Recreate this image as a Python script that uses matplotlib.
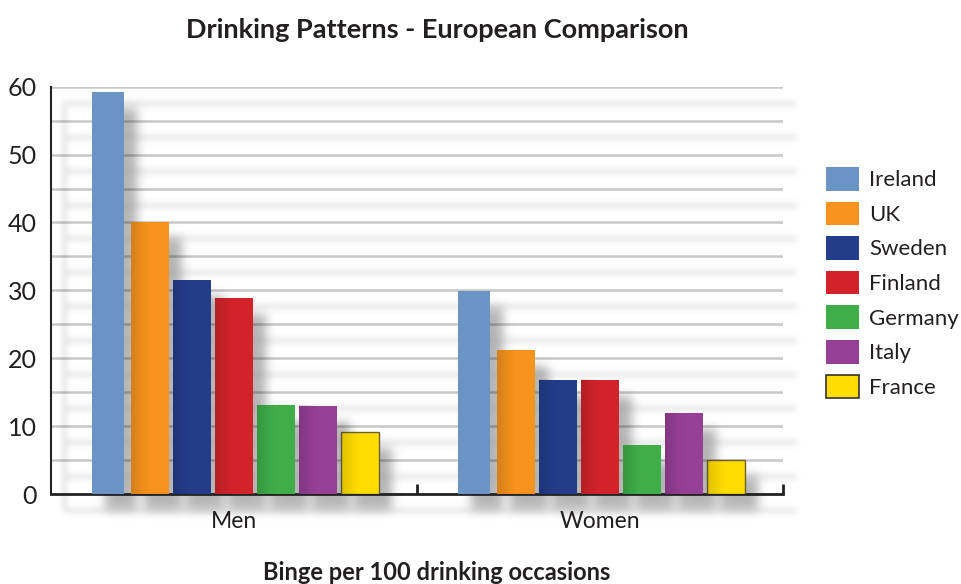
import numpy as np
import matplotlib
matplotlib.use("Agg")
import matplotlib.pyplot as plt
from matplotlib.patches import Rectangle, Patch
from matplotlib.collections import PatchCollection, LineCollection
from matplotlib.transforms import ScaledTranslation

plt.rcParams['font.family'] = ['Lato', 'DejaVu Sans']

# Binge episodes per 100 drinking occasions
groups = ["Men", "Women"]
countries = ["Ireland", "UK", "Sweden", "Finland", "Germany", "Italy", "France"]
men = [59.2, 40.0, 31.5, 28.8, 13.1, 13.0, 9.1]
women = [29.9, 21.2, 16.8, 16.8, 7.2, 11.9, 5.0]
colors = ["#6a94c5", "#f7931e", "#233d8a", "#d2232a", "#3fae49", "#963f96", "#ffdd00"]
edges = ["none", "none", "none", "none", "none", "none", "#6b6030"]
yticks = [0, 10, 20, 30, 40, 50, 60]

TEXT = "#231f20"
step = 0.115
widths = [0.088] + [0.104] * 6


def gauss_blur(sigma, color, strength):
    # soft shadow: blur the alpha channel and paint it in one colour
    def _filter(im, dpi):
        pad = int(3 * sigma) + 1
        src = np.pad(im, ((pad, pad), (pad, pad), (0, 0)))
        k = np.arange(-pad, pad + 1)
        w = np.exp(-0.5 * (k / sigma) ** 2)
        w /= w.sum()
        a = src[:, :, 3]
        tmp = np.zeros_like(a)
        for i, wi in zip(k, w):
            tmp += wi * np.roll(a, i, axis=0)
        out_a = np.zeros_like(a)
        for i, wi in zip(k, w):
            out_a += wi * np.roll(tmp, i, axis=1)
        out = np.zeros_like(src)
        out[:, :, 0] = color[0]
        out[:, :, 1] = color[1]
        out[:, :, 2] = color[2]
        out[:, :, 3] = np.clip(out_a * strength, 0, 1)
        return out, -pad, -pad
    return _filter


fig = plt.figure(figsize=(9.62, 5.84), dpi=100)
ax = fig.add_axes([51 / 962, 1 - 494 / 584, 732 / 962, (494 - 86.7) / 584])

shift = ax.transData + ScaledTranslation(0.13, -0.16, fig.dpi_scale_trans)

# bars
bar_rects = []
for g, vals in enumerate([men, women]):
    for i, v in enumerate(vals):
        x = g + 0.5 + (i - 3) * step
        w = widths[i]
        ax.bar(x, v, width=w, color=colors[i], edgecolor=edges[i],
               linewidth=1 if edges[i] != "none" else 0, zorder=3)
        bar_rects.append(Rectangle((x - w / 2, 0), w, v))
        if i > 0:
            # darker shading on the left side of each bar
            grad = np.zeros((1, 64, 4))
            grad[0, :, 3] = np.linspace(0.22, 0.0, 64) ** 1.3
            ax.imshow(grad, extent=[x - w / 2, x - w / 2 + w * 0.5, 0, v],
                      aspect="auto", interpolation="bilinear", zorder=3.1)

# drop shadow for the bars
bar_shadow = PatchCollection(bar_rects, facecolor="k", edgecolor="none",
                             transform=shift, zorder=1)
bar_shadow.set_clip_on(False)
bar_shadow.set_agg_filter(gauss_blur(5, (0.52, 0.52, 0.52), 0.6))
ax.add_collection(bar_shadow, autolim=False)

# gridlines every 5 units, plus their shadows
levels = np.arange(5, 61, 5)
ax.hlines(levels, 0, 2, colors="k", alpha=0.22, linewidth=1.8, zorder=2)
segs = [[(0, y), (2, y)] for y in levels] + [[(0, 0), (2, 0)], [(0, 0), (0, 60)]]
grid_shadow = LineCollection(segs, colors="k", linewidths=2.5, transform=shift, zorder=1)
grid_shadow.set_clip_on(False)
grid_shadow.set_agg_filter(gauss_blur(3, (0.6, 0.6, 0.6), 0.35))
ax.add_collection(grid_shadow, autolim=False)

ax.set_xlim(0, 2)
ax.set_ylim(0, 60)

for s in ["top", "right"]:
    ax.spines[s].set_visible(False)
ax.spines["left"].set_linewidth(1.5)
ax.spines["bottom"].set_linewidth(2)
ax.spines["left"].set_color("#222")
ax.spines["bottom"].set_color("#222")

ax.set_yticks(yticks)
ax.set_yticklabels([str(t) for t in yticks], fontsize=18, color=TEXT)
ax.tick_params(axis="y", length=0, pad=10)
ax.set_xticks([0.5, 1.5])
ax.set_xticklabels(groups, fontsize=16.5, color=TEXT)
ax.tick_params(axis="x", which="major", length=0, pad=12)
ax.set_xticks([1, 2], minor=True)
ax.tick_params(axis="x", which="minor", direction="in", length=7, width=2, color="#222")

fig.text(437 / 962, 1 - 30 / 584, "Drinking Patterns - European Comparison",
         ha="center", va="center", fontsize=19.5, fontweight="bold", color=TEXT)
fig.text(437 / 962, 1 - 573 / 584, "Binge per 100 drinking occasions",
         ha="center", va="center", fontsize=17, fontweight="bold", color=TEXT)

handles = [Patch(facecolor=c, edgecolor=("#333" if e != "none" else "none"), linewidth=1.2)
           for c, e in zip(colors, edges)]
fig.legend(handles, countries, loc="upper left", bbox_to_anchor=(826 / 962, 1 - 167 / 584),
           frameon=False, fontsize=16, borderpad=0, borderaxespad=0,
           handlelength=1.5, handleheight=1.25, handletextpad=0.45, labelspacing=0.5,
           labelcolor=TEXT)

fig.savefig("out.png", dpi=100)
